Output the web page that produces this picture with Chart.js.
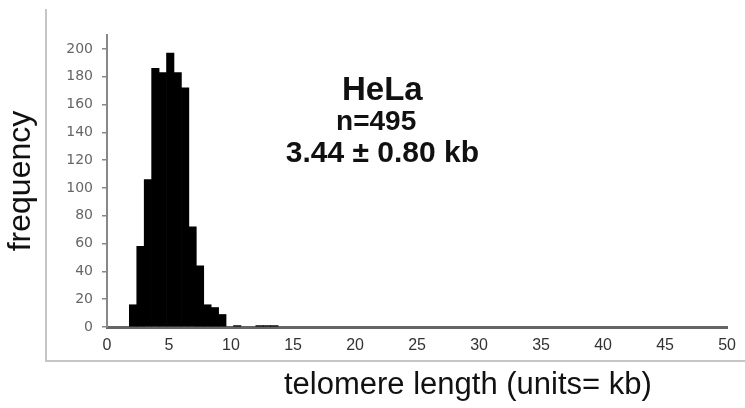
<!DOCTYPE html>
<html>
<head>
<meta charset="utf-8">
<script src="https://cdn.jsdelivr.net/npm/chart.js@4.4.0/dist/chart.umd.min.js"></script>
<style>
  html, body { margin: 0; padding: 0; background: #fff; }
  #wrap { position: relative; width: 745px; height: 408px; overflow: hidden; }
  #frame { position: absolute; left: 45px; top: 9px; width: 705px; height: 351px;
           border-left: 2px solid #c6c6c6; border-bottom: 2px solid #c6c6c6; }
  #c { position: absolute; left: 0; top: 0; }
</style>
</head>
<body>
<div id="wrap">
  <div id="frame"></div>
  <canvas id="c" width="745" height="408"></canvas>
</div>
<script>
// Histogram bins (centre of each 0.6 kb bin) and counts
const binCenters  = [2.1, 2.7, 3.3, 3.9, 4.5, 5.1, 5.7, 6.3, 6.9, 7.5, 8.1, 8.7, 9.3, 10.5, 12.3, 12.9, 13.5];
const frequencies = [16, 58, 106, 186, 183, 197, 183, 172, 72, 44, 16, 14, 9, 1, 1, 1, 1];

// Axis ticks
const xTicks = [0, 5, 10, 15, 20, 25, 30, 35, 40, 45, 50];
const yTicks = [0, 20, 40, 60, 80, 100, 120, 140, 160, 180, 200];

// Text
const sampleName  = 'HeLa';
const sampleCount = 'n=495';
const sampleMean  = '3.44 ± 0.80 kb';
const xTitle = 'telomere length (units= kb)';
const yTitle = 'frequency';

// Draws the x-axis title and the sample annotation block
const textPlugin = {
  id: 'textPlugin',
  afterDraw(chart, args, opts) {
    const { ctx, scales: { x, y } } = chart;
    ctx.save();
    ctx.fillStyle = '#111';
    ctx.textAlign = 'center';
    ctx.textBaseline = 'alphabetic';
    // annotation
    opts.lines.forEach(l => {
      ctx.font = 'bold ' + l.size + 'px "Liberation Sans", Arial, sans-serif';
      ctx.fillText(l.text, x.getPixelForValue(l.x), y.getPixelForValue(l.y));
    });
    // x-axis title
    ctx.font = opts.titleSize + 'px "Liberation Sans", Arial, sans-serif';
    ctx.fillText(xTitle, x.getPixelForValue(opts.titleX), chart.chartArea.bottom + opts.titleOffset);
    ctx.restore();
  }
};

new Chart(document.getElementById('c'), {
  type: 'bar',
  data: {
    datasets: [{
      data: binCenters.map((v, i) => ({ x: v, y: frequencies[i] })),
      backgroundColor: '#000',
      borderWidth: 0,
      barPercentage: 1,
      categoryPercentage: 1
    }]
  },
  options: {
    responsive: false,
    animation: false,
    layout: { padding: { top: 35, right: 15, bottom: 0, left: 0 } },
    plugins: {
      legend: { display: false },
      tooltip: { enabled: false },
      textPlugin: {
        lines: [
          { text: sampleName,  size: 33, x: 22.2, y: 163.5 },
          { text: sampleCount, size: 28, x: 21.7, y: 141.5 },
          { text: sampleMean,  size: 30, x: 22.2, y: 119 }
        ],
        titleX: 29.1,
        titleSize: 31,
        titleOffset: 67
      }
    },
    scales: {
      x: {
        type: 'linear',
        min: 0,
        max: 50,
        offset: false,
        afterBuildTicks: s => { s.ticks = xTicks.map(v => ({ value: v })); },
        afterFit: s => { s.height = 81; },
        grid: { offset: false, drawOnChartArea: false, drawTicks: false },
        border: { display: true, color: '#666', width: 3, dash: [3, 2] },
        ticks: {
          padding: 9,
          color: '#333',
          font: { family: '"Liberation Sans", Arial, sans-serif', size: 16 }
        }
      },
      y: {
        min: 0,
        max: 210,
        afterBuildTicks: s => { s.ticks = yTicks.map(v => ({ value: v })); },
        afterFit: s => { s.width = 107; },
        grid: { drawOnChartArea: false, drawTicks: true, tickLength: 5, color: '#888', lineWidth: 1.5 },
        border: { display: true, color: '#888', width: 2 },
        ticks: {
          padding: 9,
          color: '#666',
          font: { family: '"DejaVu Sans", sans-serif', size: 14 }
        },
        title: {
          display: true,
          text: yTitle,
          color: '#111',
          font: { family: '"Liberation Sans", Arial, sans-serif', size: 32 },
          padding: { top: 2, bottom: 0 }
        }
      }
    }
  },
  plugins: [textPlugin]
});
</script>
</body>
</html>
